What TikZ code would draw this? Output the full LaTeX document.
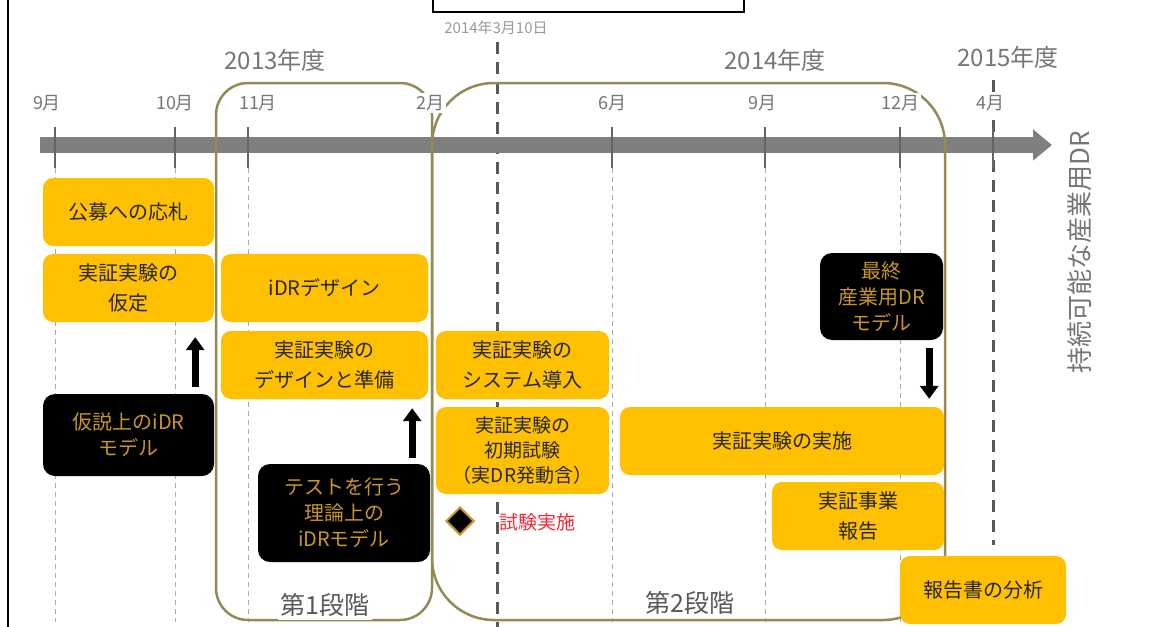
\documentclass[tikz,border=0pt]{standalone}
\usepackage{fontspec}
\setmainfont{Noto Sans CJK JP}
\usepackage{tikz}
\usetikzlibrary{arrows.meta,shapes.geometric}

\definecolor{taskyellow}{RGB}{255,192,0}
\definecolor{modelgold}{RGB}{200,150,40}
\definecolor{phaseolive}{RGB}{148,138,84}
\definecolor{bargray}{RGB}{127,127,127}
\definecolor{gridgray}{RGB}{168,170,182}
\definecolor{labelgray}{RGB}{118,118,118}
\definecolor{trialred}{RGB}{240,40,60}

\tikzset{
  taskbox/.style={fill=taskyellow, rounded corners=10pt, inner sep=0pt, align=center,
    text=black!85, font=\fontsize{20}{30}\selectfont},
  modelbox/.style={fill=black, rounded corners=12pt, inner sep=0pt, align=center,
    text=modelgold, font=\fontsize{20}{26}\selectfont},
  monthlabel/.style={fill=white, inner sep=2pt, text=labelgray, font=\fontsize{18}{18}\selectfont},
  yearlabel/.style={fill=white, inner sep=2pt, text=labelgray, font=\fontsize{24}{24}\selectfont},
  phaseline/.style={draw=phaseolive, line width=2.5pt},
  griddash/.style={gridgray, line width=1pt, dash pattern=on 5pt off 4pt},
  keydash/.style={black!65, line width=3pt, dash pattern=on 12pt off 8pt},
  monthtick/.style={black!60, line width=2.5pt},
  bigarrow/.style={line width=7pt, -{Triangle[width=18pt,length=13pt]}}
}

\begin{document}
\begin{tikzpicture}[x=1pt,y=-1pt]
\useasboundingbox (0,0) rectangle (1158,626);
\draw[line width=2.5pt] (8,-5) -- (8,630);
\draw[line width=2.5pt] (433,-10) rectangle (744,12);

% grid lines
\foreach \mx in {55,175,248,612,765,900}
  \draw[griddash] (\mx,168) -- (\mx,622);
\draw[keydash] (497,42) -- (497,630);
\draw[keydash] (993,80) -- (993,545);

% time line
\coordinate (tstart) at (40,145);
\coordinate (tend) at (1052,145);
\draw[bargray, line width=16pt, -{Triangle[width=30pt,length=19pt]}] (tstart) -- (tend);
\foreach \mx in {55,175,248,432,612,765,900,993}
  \draw[monthtick] (\mx,127) -- (\mx,168);

% phases
\draw[phaseline, rounded corners=32pt] (216,83) rectangle (432,620);
\draw[phaseline, rounded corners=62pt] (432,83) rectangle (945,620);

\foreach \lx/\mname [count=\i] in {47/9月,175/10月,258/11月,430/2月,612/6月,762/9月,900/12月,990/4月}
  \node[monthlabel] (m\i) at (\lx,103) {\mname};
\node[yearlabel] (y2013) at (275,60) {2013年度};
\node[yearlabel] (y2014) at (775,60) {2014年度};
\node[yearlabel] (y2015) at (1008,57) {2015年度};
\node[text=black!40, font=\fontsize{15}{15}\selectfont] (date) at (496,28) {2014年3月10日};
\node[fill=white, inner sep=3pt, text=black!65, font=\fontsize{25}{25}\selectfont] (ph1) at (325,605) {第1段階};
\node[fill=white, inner sep=3pt, text=black!65, font=\fontsize{25}{25}\selectfont] (ph2) at (690,603) {第2段階};
\node[rotate=90, text=labelgray, font=\fontsize{26}{26}\selectfont] (goal) at (1080,252) {持続可能な産業用DR};

% tasks
\node[taskbox, minimum width=171pt, minimum height=68pt] (bid) at (128.5,212) {公募への応札};
\node[taskbox, minimum width=171pt, minimum height=68pt] (assume) at (128.5,288) {実証実験の\\仮定};
\node[taskbox, minimum width=207pt, minimum height=68pt] (design) at (324.5,288) {iDRデザイン};
\node[taskbox, minimum width=207pt, minimum height=68pt] (prep) at (324.5,365) {実証実験の\\デザインと準備};
\node[taskbox, minimum width=173pt, minimum height=68pt] (sysint) at (522.5,365) {実証実験の\\システム導入};
\node[taskbox, minimum width=173pt, minimum height=87pt, font=\fontsize{19}{25}\selectfont] (initial) at (522.5,450.5) {実証実験の\\初期試験\\（実DR発動含）};
\node[taskbox, minimum width=324pt, minimum height=68pt] (run) at (782,441) {実証実験の実施};
\node[taskbox, minimum width=172pt, minimum height=68pt] (report) at (858,516) {実証事業\\報告};
\node[taskbox, minimum width=166pt, minimum height=68pt] (analysis) at (983,590) {報告書の分析};

% models
\node[modelbox, minimum width=171pt, minimum height=82pt] (hyp) at (128.5,435) {仮説上のiDR\\モデル};
\node[modelbox, minimum width=172pt, minimum height=98pt] (theory) at (344,513) {テストを行う\\理論上の\\iDRモデル};
\node[modelbox, minimum width=123pt, minimum height=87pt] (final) at (881.5,296.5) {最終\\産業用DR\\モデル};

\draw[bigarrow] ([xshift=-19pt,yshift=7pt]hyp.north east) -- ([xshift=-19pt,yshift=-15pt]assume.south east);
\draw[bigarrow] ([xshift=-18pt,yshift=6pt]theory.north east) -- ([xshift=-16pt,yshift=-9pt]prep.south east);
\draw[bigarrow] ([xshift=-14pt,yshift=-8pt]final.south east) -- ([xshift=-15pt,yshift=8pt]run.north east);

\node[diamond, fill=black, draw=modelgold, line width=2pt, minimum size=28pt, inner sep=0pt] (trial) at (460,521) {};
\node[text=trialred, font=\fontsize{19}{19}\selectfont] (triallabel) at (537,522) {試験実施};
\end{tikzpicture}
\end{document}
